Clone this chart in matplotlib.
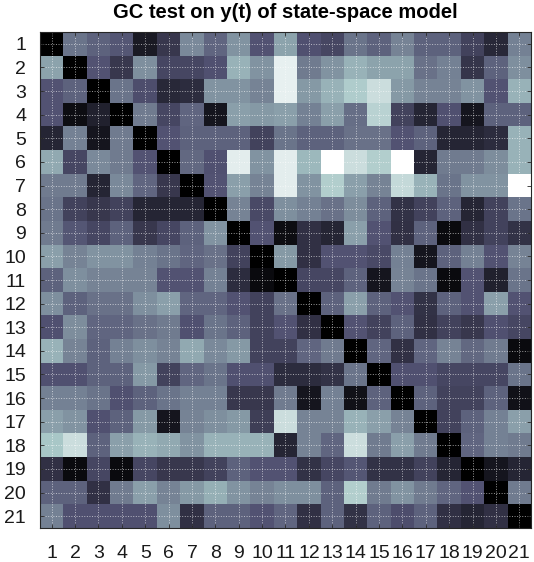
import matplotlib
matplotlib.use("Agg")
import matplotlib.pyplot as plt
import numpy as np

# GC test values (0 = black, 1 = white on "bone")
labels = [str(i) for i in range(1, 22)]

r01 = [0.00, 0.48, 0.42, 0.38, 0.12, 0.25, 0.55, 0.43, 0.58, 0.37, 0.63, 0.36, 0.32, 0.48, 0.42, 0.53, 0.42, 0.42, 0.30, 0.18, 0.52]
r02 = [0.63, 0.00, 0.37, 0.25, 0.57, 0.32, 0.32, 0.36, 0.68, 0.58, 0.93, 0.50, 0.58, 0.68, 0.63, 0.63, 0.47, 0.52, 0.24, 0.42, 0.57]
r03 = [0.37, 0.42, 0.00, 0.48, 0.35, 0.18, 0.20, 0.58, 0.58, 0.53, 0.93, 0.60, 0.68, 0.77, 0.85, 0.60, 0.53, 0.53, 0.58, 0.37, 0.68]
r04 = [0.37, 0.06, 0.15, 0.00, 0.50, 0.32, 0.43, 0.10, 0.62, 0.60, 0.62, 0.52, 0.62, 0.46, 0.80, 0.30, 0.17, 0.36, 0.10, 0.42, 0.42]
r05 = [0.17, 0.52, 0.10, 0.50, 0.00, 0.37, 0.42, 0.42, 0.42, 0.30, 0.48, 0.42, 0.42, 0.47, 0.47, 0.37, 0.42, 0.17, 0.17, 0.20, 0.68]
r06 = [0.65, 0.32, 0.55, 0.50, 0.37, 0.00, 0.44, 0.36, 0.92, 0.58, 0.92, 0.70, 1.00, 0.85, 0.78, 1.00, 0.17, 0.50, 0.50, 0.56, 0.68]
r07 = [0.50, 0.50, 0.17, 0.55, 0.43, 0.25, 0.00, 0.37, 0.62, 0.53, 0.92, 0.58, 0.78, 0.62, 0.53, 0.83, 0.68, 0.48, 0.58, 0.58, 1.00]
r08 = [0.48, 0.30, 0.25, 0.30, 0.17, 0.17, 0.17, 0.00, 0.53, 0.33, 0.57, 0.52, 0.47, 0.56, 0.42, 0.23, 0.30, 0.42, 0.17, 0.30, 0.48]
r09 = [0.50, 0.38, 0.32, 0.42, 0.25, 0.32, 0.42, 0.58, 0.00, 0.37, 0.06, 0.22, 0.17, 0.62, 0.37, 0.22, 0.42, 0.05, 0.22, 0.30, 0.23]
r10 = [0.62, 0.53, 0.58, 0.58, 0.52, 0.48, 0.43, 0.47, 0.30, 0.00, 0.60, 0.22, 0.37, 0.37, 0.33, 0.52, 0.10, 0.42, 0.52, 0.37, 0.53]
r11 = [0.42, 0.57, 0.53, 0.53, 0.53, 0.37, 0.37, 0.52, 0.20, 0.05, 0.00, 0.32, 0.32, 0.42, 0.10, 0.53, 0.48, 0.05, 0.37, 0.15, 0.48]
r12 = [0.57, 0.42, 0.47, 0.47, 0.57, 0.62, 0.43, 0.43, 0.37, 0.30, 0.47, 0.00, 0.42, 0.62, 0.42, 0.37, 0.23, 0.42, 0.37, 0.62, 0.37]
r13 = [0.36, 0.56, 0.43, 0.43, 0.47, 0.50, 0.36, 0.48, 0.42, 0.30, 0.37, 0.22, 0.00, 0.37, 0.30, 0.42, 0.22, 0.30, 0.25, 0.36, 0.32]
r14 = [0.68, 0.53, 0.42, 0.52, 0.57, 0.53, 0.65, 0.55, 0.60, 0.30, 0.30, 0.43, 0.50, 0.00, 0.43, 0.22, 0.43, 0.53, 0.44, 0.50, 0.05]
r15 = [0.36, 0.36, 0.42, 0.42, 0.60, 0.30, 0.43, 0.48, 0.36, 0.36, 0.20, 0.20, 0.23, 0.48, 0.00, 0.36, 0.36, 0.32, 0.32, 0.32, 0.48]
r16 = [0.52, 0.52, 0.48, 0.36, 0.42, 0.48, 0.52, 0.52, 0.25, 0.25, 0.50, 0.10, 0.52, 0.08, 0.42, 0.00, 0.42, 0.30, 0.30, 0.42, 0.08]
r17 = [0.62, 0.58, 0.36, 0.42, 0.60, 0.10, 0.53, 0.57, 0.60, 0.28, 0.85, 0.53, 0.53, 0.68, 0.62, 0.53, 0.00, 0.30, 0.42, 0.52, 0.62]
r18 = [0.75, 0.85, 0.42, 0.62, 0.68, 0.65, 0.58, 0.68, 0.68, 0.68, 0.17, 0.53, 0.43, 0.85, 0.50, 0.62, 0.50, 0.00, 0.43, 0.52, 0.50]
r19 = [0.22, 0.05, 0.32, 0.05, 0.32, 0.25, 0.25, 0.30, 0.42, 0.37, 0.37, 0.23, 0.32, 0.38, 0.23, 0.23, 0.30, 0.17, 0.00, 0.10, 0.17]
r20 = [0.42, 0.42, 0.22, 0.50, 0.62, 0.53, 0.60, 0.67, 0.58, 0.53, 0.57, 0.57, 0.42, 0.78, 0.50, 0.58, 0.50, 0.43, 0.37, 0.00, 0.50]
r21 = [0.52, 0.36, 0.36, 0.36, 0.36, 0.57, 0.22, 0.42, 0.42, 0.37, 0.43, 0.22, 0.42, 0.23, 0.42, 0.35, 0.42, 0.22, 0.17, 0.22, 0.00]

gc = np.array([r01, r02, r03, r04, r05, r06, r07, r08, r09, r10, r11,
               r12, r13, r14, r15, r16, r17, r18, r19, r20, r21])
n = len(labels)

plt.rcParams['font.family'] = ['Liberation Sans', 'DejaVu Sans']

fig = plt.figure(figsize=(5.34, 5.62), dpi=100)
ax = fig.add_axes([40/534, 1 - 528/562, 491/534, 496/562])

ax.imshow(gc, cmap='bone', vmin=0, vmax=1, aspect='auto', interpolation='nearest',
          extent=(0.5, n + 0.5, n + 0.5, 0.5))

ax.set_xticks(np.arange(1, n + 1))
ax.set_yticks(np.arange(1, n + 1))
ax.set_xticklabels(labels)
ax.set_yticklabels(labels)
ax.tick_params(direction='in', length=3, width=0.6, colors='#262626',
               top=True, right=True, labelsize=14, pad=10)
ax.tick_params(axis='x', pad=12)
for lab in ax.get_xticklabels() + ax.get_yticklabels():
    lab.set_color('#1a1a1a')

ax.grid(True, color='white', linestyle=':', linewidth=0.7, alpha=0.6)
for s in ax.spines.values():
    s.set_color('#262626')
    s.set_linewidth(0.8)

ax.set_title("GC test on y(t) of state-space model", fontsize=14.5,
             fontweight='bold', pad=10)

fig.savefig("out.png", dpi=100)
